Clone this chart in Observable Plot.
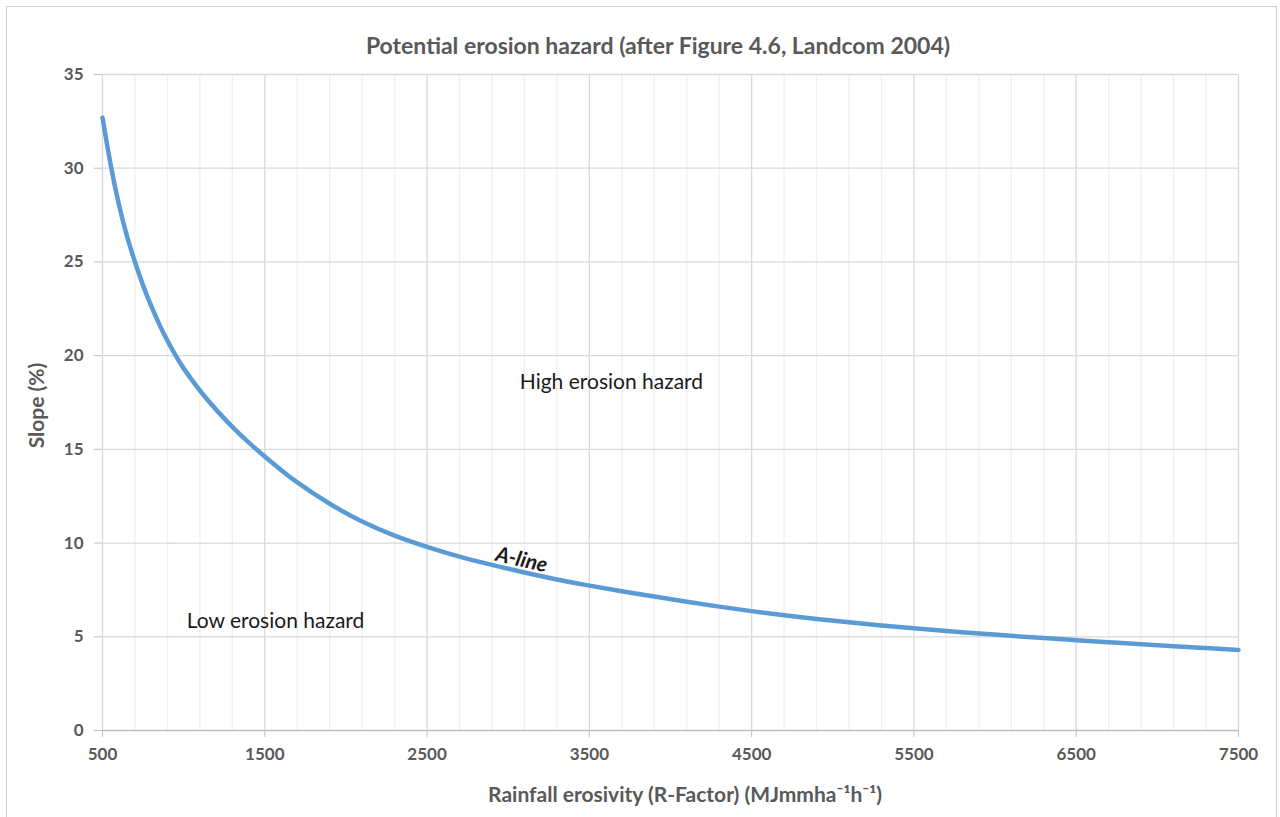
<!DOCTYPE html>
<html>
<head>
<meta charset="utf-8">
<script src="https://cdn.jsdelivr.net/npm/d3@7"></script>
<script src="https://cdn.jsdelivr.net/npm/@observablehq/plot@0.6"></script>
<style>
  html, body { margin: 0; padding: 0; background: #fff; }
  #wrap { position: relative; width: 1280px; height: 817px; overflow: hidden; font-family: Lato, "Open Sans", sans-serif; }
  #frame { position: absolute; left: 6px; top: 6px; width: 1271px; height: 840px; border: 1px solid #cfcfcf; box-sizing: border-box; pointer-events: none; }
  #title { position: relative; height: 60px; }
  #title span { position: absolute; left: 0; width: 1316px; top: 32px; line-height: 26px; text-align: center; font-size: 23px; font-weight: bold; color: #595959; }
  svg { display: block; }
</style>
</head>
<body>
<div id="wrap">
  <div id="frame"></div>
  <div id="title"><span>Potential erosion hazard (after Figure 4.6, Landcom 2004)</span></div>
  <div id="chart"></div>
</div>
<script>
const rFactor = [500, 550, 600, 650, 700, 750, 800, 850, 900, 950, 1000, 1100, 1200, 1300, 1400, 1500, 1600, 1700,
                 1900, 2100, 2300, 2500, 2700, 2900, 3100, 3300, 3500, 3700, 3900, 4100, 4300, 4500,
                 4700, 4900, 5100, 5300, 5500, 5700, 5900, 6100, 6300, 6500, 6700, 6900, 7100, 7300, 7500];
const slope   = [32.7, 30.2, 28.1, 26.4, 25.0, 23.75, 22.65, 21.67, 20.8, 20.02, 19.32, 18.14, 17.12, 16.2, 15.37, 14.62, 13.9, 13.24,
                 12.1, 11.15, 10.4, 9.8, 9.28, 8.84, 8.43, 8.06, 7.73, 7.43, 7.15, 6.87, 6.61, 6.37,
                 6.15, 5.95, 5.77, 5.6, 5.45, 5.31, 5.18, 5.05, 4.93, 4.82, 4.71, 4.6, 4.5, 4.4, 4.3];

const xMajorTicks = [500, 1500, 2500, 3500, 4500, 5500, 6500, 7500];
const xMinorTicks = [700, 900, 1100, 1300, 1700, 1900, 2100, 2300, 2700, 2900, 3100, 3300, 3700, 3900,
                     4100, 4300, 4700, 4900, 5100, 5300, 5700, 5900, 6100, 6300, 6700, 6900, 7100, 7300];
const yTicks = [0, 5, 10, 15, 20, 25, 30, 35];

const annotations = ["High erosion hazard", "Low erosion hazard", "A-line"];
const xLabel = "Rainfall erosivity (R-Factor) (MJmmha\u207B\u00B9h\u207B\u00B9)";
const yLabel = "Slope (%)";

const data = rFactor.map((r, i) => ({ r, s: slope[i] }));

const chart = Plot.plot({
  width: 1280,
  height: 757,
  marginTop: 14,
  marginLeft: 102,
  marginRight: 42,
  marginBottom: 87,
  style: { fontFamily: "Lato, 'Open Sans', sans-serif", background: "transparent", color: "#595959" },
  x: { domain: [500, 7500] },
  y: { domain: [0, 35] },
  marks: [
    Plot.ruleX(xMinorTicks, { stroke: "#f0f0f0", strokeWidth: 1.3 }),
    Plot.ruleX(xMajorTicks, { stroke: "#d9d9d9", strokeWidth: 1.3 }),
    Plot.ruleY(yTicks.filter(d => d > 0), { stroke: "#d9d9d9", strokeWidth: 1.3 }),
    Plot.ruleY([0], { stroke: "#bfbfbf", strokeWidth: 1.3 }),
    Plot.axisX({ ticks: xMajorTicks, tickFormat: d => String(d), tickSize: 7, tickPadding: 10,
                 fontSize: 17, fontWeight: "bold", fill: "#595959", stroke: "#bfbfbf", label: null }),
    Plot.axisY({ ticks: yTicks, tickFormat: d => String(d), tickSize: 8, tickPadding: 11,
                 fontSize: 17, fontWeight: "bold", fill: "#595959", stroke: "#bfbfbf", label: null }),
    Plot.text([xLabel], { x: 4090, frameAnchor: "bottom", dy: 65, lineAnchor: "middle", textAnchor: "middle",
                          fontSize: 21, fontWeight: "bold", fill: "#595959" }),
    Plot.text([yLabel], { frameAnchor: "left", dx: -65, dy: 3, rotate: -90, textAnchor: "middle", lineAnchor: "middle",
                          fontSize: 21, fontWeight: "bold", fill: "#595959" }),
    Plot.line(data, { x: "r", y: "s", stroke: "#5b9bd5", strokeWidth: 4.5, curve: "natural", strokeLinecap: "round" }),
    Plot.text([annotations[0]], { x: 3636, y: 18.6, fontSize: 21, fill: "#1a1a1a" }),
    Plot.text([annotations[1]], { x: 1566, y: 5.83, fontSize: 21, fill: "#1a1a1a" }),
    Plot.text([annotations[2]], { x: 3082, y: 9.1, rotate: 13, fontSize: 21, fontWeight: "bold", fontStyle: "italic", fill: "#1a1a1a" })
  ]
});
document.getElementById("chart").appendChild(chart);
</script>
</body>
</html>
